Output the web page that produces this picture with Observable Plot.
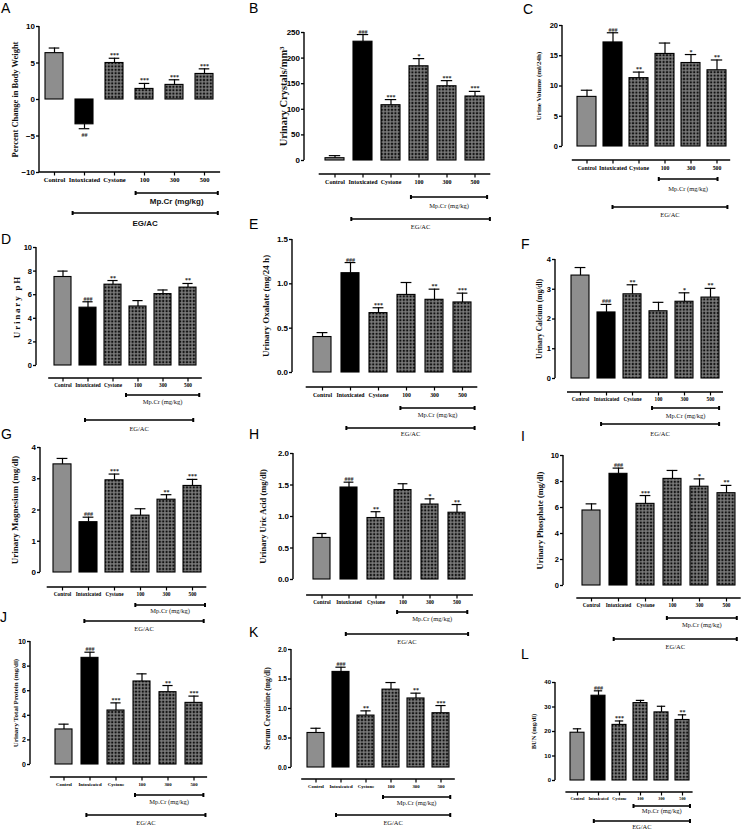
<!DOCTYPE html>
<html><head><meta charset="utf-8">
<script src="https://cdn.jsdelivr.net/npm/d3@7"></script>
<script src="https://cdn.jsdelivr.net/npm/@observablehq/plot@0.6"></script>
<style>
body{margin:0;background:#fff;}
#wrap{position:relative;width:744px;height:831px;overflow:hidden;background:#fff;}
.pl{position:absolute;}
.lt{position:absolute;font-family:"Liberation Sans",Arial,sans-serif;font-size:14px;line-height:1;color:#000;}
</style></head><body>
<svg width="0" height="0" style="position:absolute">
<defs><pattern id="dots" width="3.4" height="3.4" patternUnits="userSpaceOnUse"><rect width="3.4" height="3.4" fill="#111"/><circle cx="1.7" cy="1.7" r="1.05" fill="none" stroke="#eee" stroke-width="0.6"/></pattern></defs></svg>
<div id="wrap"></div>
<script>
// ---------- DATA ----------
const groups = ["Control", "Intoxicated", "Cystone", "100", "300", "500"];
const bracketText = ["Mp.Cr (mg/kg)", "EG/AC"];
const yLabels = ["Percent Change in Body Weight", "Urinary Crystals/mm³", "Urine Volume (ml/24h)",
  "Urinary pH", "Urinary Oxalate (mg/24 h)", "Urinary Calcium (mg/dl)",
  "Urinary Magnesium (mg/dl)", "Urinary Uric Acid (mg/dl)", "Urinary Phosphate (mg/dl)",
  "Urinary Total Protein (mg/dl)", "Serum Creatinine (mg/dl)", "BUN (mg/dl)"];

const A_mean = [6.35, -3.4, 5.0, 1.45, 2.0, 3.5];
const A_sem  = [0.7, 0.6, 0.65, 0.75, 0.7, 0.7];
const A_sig  = ["", "##", "***", "***", "***", "***"];
const A_ticks = [-10, -5, 0, 5, 10];

const B_mean = [4.5, 232, 108, 184, 145, 125];
const B_sem  = [5, 14, 11, 15, 11, 10];
const B_sig  = ["", "###", "***", "*", "***", "***"];
const B_ticks = [0, 50, 100, 150, 200, 250];

const C_mean = [8.2, 17.2, 11.3, 15.3, 13.8, 12.6];
const C_sem  = [1.1, 1.6, 1.0, 1.8, 1.4, 1.7];
const C_sig  = ["", "###", "**", "", "*", "**"];
const C_ticks = [0, 5, 10, 15, 20];

const D_mean = [7.5, 4.9, 6.85, 5.0, 6.05, 6.6];
const D_sem  = [0.5, 0.5, 0.35, 0.5, 0.35, 0.35];
const D_sig  = ["", "###", "**", "", "", "**"];
const D_ticks = [0, 2, 4, 6, 8, 10];

const E_mean = [0.40, 1.12, 0.67, 0.875, 0.82, 0.79];
const E_sem  = [0.05, 0.12, 0.06, 0.14, 0.12, 0.105];
const E_sig  = ["", "###", "***", "", "**", "***"];
const E_ticks = [0, 0.5, 1.0, 1.5];

const F_mean = [3.46, 2.22, 2.83, 2.26, 2.58, 2.72];
const F_sem  = [0.27, 0.27, 0.32, 0.3, 0.3, 0.31];
const F_sig  = ["", "###", "**", "", "*", "**"];
const F_ticks = [0, 1, 2, 3, 4];

const G_mean = [3.46, 1.61, 2.95, 1.82, 2.33, 2.77];
const G_sem  = [0.19, 0.16, 0.2, 0.22, 0.16, 0.21];
const G_sig  = ["", "###", "***", "", "**", "***"];
const G_ticks = [0, 1, 2, 3, 4];

const H_mean = [0.66, 1.46, 0.976, 1.42, 1.19, 1.06];
const H_sem  = [0.07, 0.085, 0.1, 0.1, 0.09, 0.13];
const H_sig  = ["", "###", "**", "", "*", "**"];
const H_ticks = [0, 0.5, 1.0, 1.5, 2.0];

const I_mean = [5.77, 8.59, 6.28, 8.2, 7.6, 7.1];
const I_sem  = [0.51, 0.44, 0.64, 0.65, 0.6, 0.6];
const I_sig  = ["", "###", "***", "", "*", "**"];
const I_ticks = [0, 2, 4, 6, 8, 10];

const J_mean = [2.85, 8.67, 4.39, 6.75, 5.88, 5.01];
const J_sem  = [0.43, 0.46, 0.62, 0.62, 0.54, 0.55];
const J_sig  = ["", "###", "***", "", "**", "***"];
const J_ticks = [0, 2, 4, 6, 8, 10];

const K_mean = [0.585, 1.62, 0.88, 1.32, 1.17, 0.92];
const K_sem  = [0.08, 0.08, 0.08, 0.12, 0.09, 0.13];
const K_sig  = ["", "###", "**", "", "**", "***"];
const K_ticks = [0, 0.5, 1.0, 1.5, 2.0];

const L_mean = [19.5, 34.6, 22.7, 31.6, 27.8, 24.7];
const L_sem  = [1.6, 2.0, 1.6, 1.1, 2.5, 2.1];
const L_sig  = ["", "###", "***", "", "", "**"];
const L_ticks = [0, 10, 20, 30, 40];

const panelData = [
  {id:"A", mean:A_mean, sem:A_sem, sig:A_sig, ticks:A_ticks, label:yLabels[0], dec:0},
  {id:"B", mean:B_mean, sem:B_sem, sig:B_sig, ticks:B_ticks, label:yLabels[1], dec:0},
  {id:"C", mean:C_mean, sem:C_sem, sig:C_sig, ticks:C_ticks, label:yLabels[2], dec:0},
  {id:"D", mean:D_mean, sem:D_sem, sig:D_sig, ticks:D_ticks, label:yLabels[3], dec:0},
  {id:"E", mean:E_mean, sem:E_sem, sig:E_sig, ticks:E_ticks, label:yLabels[4], dec:1},
  {id:"F", mean:F_mean, sem:F_sem, sig:F_sig, ticks:F_ticks, label:yLabels[5], dec:0},
  {id:"G", mean:G_mean, sem:G_sem, sig:G_sig, ticks:G_ticks, label:yLabels[6], dec:0},
  {id:"H", mean:H_mean, sem:H_sem, sig:H_sig, ticks:H_ticks, label:yLabels[7], dec:1},
  {id:"I", mean:I_mean, sem:I_sem, sig:I_sig, ticks:I_ticks, label:yLabels[8], dec:0},
  {id:"J", mean:J_mean, sem:J_sem, sig:J_sig, ticks:J_ticks, label:yLabels[9], dec:0},
  {id:"K", mean:K_mean, sem:K_sem, sig:K_sig, ticks:K_ticks, label:yLabels[10], dec:1},
  {id:"L", mean:L_mean, sem:L_sem, sig:L_sig, ticks:L_ticks, label:yLabels[11], dec:0}
];

// ---------- LAYOUT (page pixels) ----------
const layout = {
  A:{ax:39, c0:54, c5:205, yT:26, yB:172, xl:172, bw:18.5, mp:193, mpT:202, eg:213, egT:224, mpR:[2.72,5.46], egR:[0.62,5.46], lx:24, lfs:8.5, tfs:8, xfs:6.5, sans:true, let:[1,1]},
  B:{ax:304, c0:333, c5:476, yT:32, yB:160, xl:174, bw:19, mp:197, mpT:207, eg:219, egT:228, mpR:[2.73,5.45], egR:[0.6,5.55], lx:21, lfs:10.5, tfs:8, xfs:6, let:[249,1]},
  C:{ax:562, c0:585, c5:717, yT:25, yB:146, xl:160, bw:19, mp:179, mpT:190, eg:207, egT:216, mpR:[2.78,5.04], egR:[1.0,5.42], lx:24, lfs:7, tfs:7.5, xfs:5.8, let:[523,2]},
  D:{ax:36, c0:61, c5:189, yT:247, yB:365, xl:378, bw:17, mp:395, mpT:403, eg:420, egT:430, mpR:[2.54,5.47], egR:[0.9,5.23], lx:19, lfs:9, tfs:7.5, xfs:5.3, ls:1.8, let:[1,232]},
  E:{ax:292, c0:320, c5:463, yT:239, yB:372, xl:387, bw:18, mp:408, mpT:416, eg:428, egT:435, mpR:[2.8,5.45], egR:[0.87,5.45], lx:26, lfs:9, tfs:8, xfs:5.8, let:[249,217]},
  F:{ax:555, c0:580, c5:710, yT:259, yB:378, xl:392, bw:18, mp:408, mpT:417, eg:424, egT:435, mpR:[2.77,5.35], egR:[0.81,5.35], lx:16, lfs:7.5, tfs:7.5, xfs:5.3, let:[521,237]},
  G:{ax:40, c0:60, c5:193, yT:447, yB:572, xl:587, bw:18, mp:605, mpT:612, eg:621, egT:630, mpR:[2.82,5.5], egR:[0.86,5.45], lx:25, lfs:9, tfs:8, xfs:5.3, let:[1,427]},
  H:{ax:293, c0:320, c5:459, yT:453, yB:579, xl:595, bw:18, mp:612, mpT:620, eg:634, egT:643, mpR:[2.8,5.4], egR:[0.9,5.43], lx:30, lfs:8.5, tfs:8, xfs:5.3, let:[249,427]},
  I:{ax:563, c0:590, c5:727, yT:455, yB:585, xl:598, bw:18, mp:618, mpT:626, eg:639, egT:648, mpR:[2.81,5.4], egR:[0.84,5.4], lx:23, lfs:8.5, tfs:7.5, xfs:5.3, let:[521,429]},
  J:{ax:30, c0:63, c5:194, yT:641, yB:764, xl:777, bw:17, mp:795, mpT:803, eg:815, egT:824, mpR:[2.75,5.38], egR:[0.88,5.46], lx:15, lfs:7, tfs:7, xfs:4.8, let:[0,610]},
  K:{ax:291, c0:314, c5:442, yT:649, yB:767, xl:779, bw:17, mp:797, mpT:804, eg:815, egT:824, mpR:[2.7,5.39], egR:[0.82,5.39], lx:24, lfs:7.5, tfs:6.5, xfs:4.8, let:[249,625]},
  L:{ax:555, c0:576, c5:682, yT:682, yB:780, xl:792, bw:14, mp:806, mpT:812, eg:821, egT:828, mpR:[2.69,5.38], egR:[0.8,5.38], lx:22, lfs:6.5, tfs:6, xfs:4.2, let:[521,647]}
};

const SERIF = '"Liberation Serif","Times New Roman",serif';
const SANS = '"Liberation Sans",Arial,sans-serif';
const wrap = document.getElementById("wrap");

panelData.forEach(p => {
  const L = layout[p.id];
  const step = (L.c5 - L.c0) / 5;
  const r0 = L.c0 - step / 2, r1 = L.c5 + step / 2;
  const left = Math.max(0, L.ax - 48);
  const top = L.yT - 14;
  const width = Math.round(r1 + 16 - left);
  const height = Math.round(L.egT + 10 - top);
  const mL = r0 - left, mR = width - (r1 - left);
  const mT = L.yT - top, mB = height - (L.yB - top);
  const gap = r0 - L.ax;
  const pi = 1 - L.bw / step;
  const data = groups.map((g, i) => ({g, v: p.mean[i], e: p.sem[i], s: p.sig[i], i}));
  const tip = d => d.v + (d.v < 0 ? -1 : 1) * d.e;
  const fmt = d3.format("." + p.dec + "f");
  const ymin = p.ticks[0], ymax = p.ticks[p.ticks.length - 1];
  const xOff = L.xl - L.yB;
  const plot = Plot.plot({
    width, height, marginLeft: mL, marginRight: mR, marginTop: mT, marginBottom: mB,
    style: {background: "transparent", overflow: "visible", maxWidth: "none"},
    x: {type: "band", domain: groups, paddingInner: pi, paddingOuter: pi / 2, align: 0.5},
    y: {domain: [ymin, ymax]},
    marks: [
      Plot.barY(data.filter(d => d.i === 0), {x: "g", y: "v", fill: "#8e8e8e", stroke: "#000", strokeWidth: 1.1}),
      Plot.barY(data.filter(d => d.i === 1), {x: "g", y: "v", fill: "#000", stroke: "#000", strokeWidth: 1.1}),
      Plot.barY(data.filter(d => d.i > 1), {x: "g", y: "v", fill: "url(#dots)", stroke: "#000", strokeWidth: 1.1}),
      Plot.ruleX(data, {x: "g", y1: "v", y2: tip, stroke: "#000", strokeWidth: 1.2}),
      Plot.tickY(data, {x: "g", y: tip, stroke: "#000", strokeWidth: 1.2, insetLeft: L.bw * 0.2, insetRight: L.bw * 0.2}),
      Plot.text(data.filter(d => d.s && d.v >= 0), {x: "g", y: tip, text: "s", lineAnchor: "bottom", dy: -1, fontSize: 6, fontWeight: "bold", fontFamily: SERIF, fill: "#222"}),
      Plot.text(data.filter(d => d.s && d.v < 0), {x: "g", y: tip, text: "s", lineAnchor: "top", dy: 4, fontSize: 6, fontWeight: "bold", fontFamily: SERIF, fill: "#222"}),
      Plot.axisY(p.ticks, {tickSize: 3, tickPadding: 1.5, dx: -gap, fontSize: L.tfs, fontFamily: SANS, fontWeight: "bold", tickFormat: fmt, label: null, strokeWidth: 1.3}),
      Plot.axisX({tickSize: 3.5, tickPadding: 1.5, dy: xOff, fontSize: L.xfs, fontFamily: SERIF, fontWeight: "bold", label: null, strokeWidth: 1.2}),
      Plot.text([p.label], {text: d => d, frameAnchor: "left", textAnchor: "middle", dx: -(gap + L.lx), rotate: -90, fontSize: L.lfs, fontFamily: SERIF, fontWeight: "bold", fill: "#111"})
    ]
  });
  const svg = d3.select(plot);
  if (L.ls) svg.selectAll("text").filter(function () { return this.textContent === p.label; }).style("letter-spacing", L.ls + "px");
  const xs = plot.scale("x"), ys = plot.scale("y");
  const stepPx = xs.apply(groups[1]) - xs.apply(groups[0]);
  const cx = f => xs.apply(groups[0]) + xs.bandwidth / 2 + f * stepPx;
  const g = svg.append("g").attr("stroke", "#000").attr("fill", "#000");
  // y axis line
  g.append("line").attr("x1", mL - gap).attr("x2", mL - gap)
    .attr("y1", ys.apply(ymax)).attr("y2", ys.apply(ymin)).attr("stroke-width", 1.4);
  // x axis line (GraphPad style, offset below the baseline)
  g.append("line").attr("x1", xs.range[0]).attr("x2", xs.range[1])
    .attr("y1", ys.apply(ymin) + xOff).attr("y2", ys.apply(ymin) + xOff).attr("stroke-width", 1.4);
  // brackets
  const bracket = (yy, rr, ty, txt) => {
    const a = cx(rr[0]), b = cx(rr[1]), y = yy - top;
    g.append("line").attr("x1", a).attr("x2", b).attr("y1", y).attr("y2", y).attr("stroke-width", 1.4);
    g.append("rect").attr("x", a - 1).attr("y", y - 2).attr("width", 2).attr("height", 4).attr("stroke", "none");
    g.append("rect").attr("x", b - 1).attr("y", y - 2).attr("width", 2).attr("height", 4).attr("stroke", "none");
    svg.append("text").attr("x", (a + b) / 2).attr("y", ty - top)
      .attr("text-anchor", "middle").attr("dominant-baseline", "middle")
      .attr("font-family", L.sans ? SANS : SERIF).attr("font-weight", L.sans ? "bold" : "normal")
      .attr("font-size", L.sans ? 8 : 6.5).attr("fill", "#111").text(txt);
  };
  bracket(L.mp, L.mpR, L.mpT, bracketText[0]);
  bracket(L.eg, L.egR, L.egT, bracketText[1]);

  const div = document.createElement("div");
  div.className = "pl";
  div.style.left = left + "px";
  div.style.top = top + "px";
  div.appendChild(plot);
  wrap.appendChild(div);

  const lt = document.createElement("div");
  lt.className = "lt";
  lt.style.left = L.let[0] + "px";
  lt.style.top = L.let[1] + "px";
  lt.textContent = p.id;
  wrap.appendChild(lt);
});
</script>
</body></html>
